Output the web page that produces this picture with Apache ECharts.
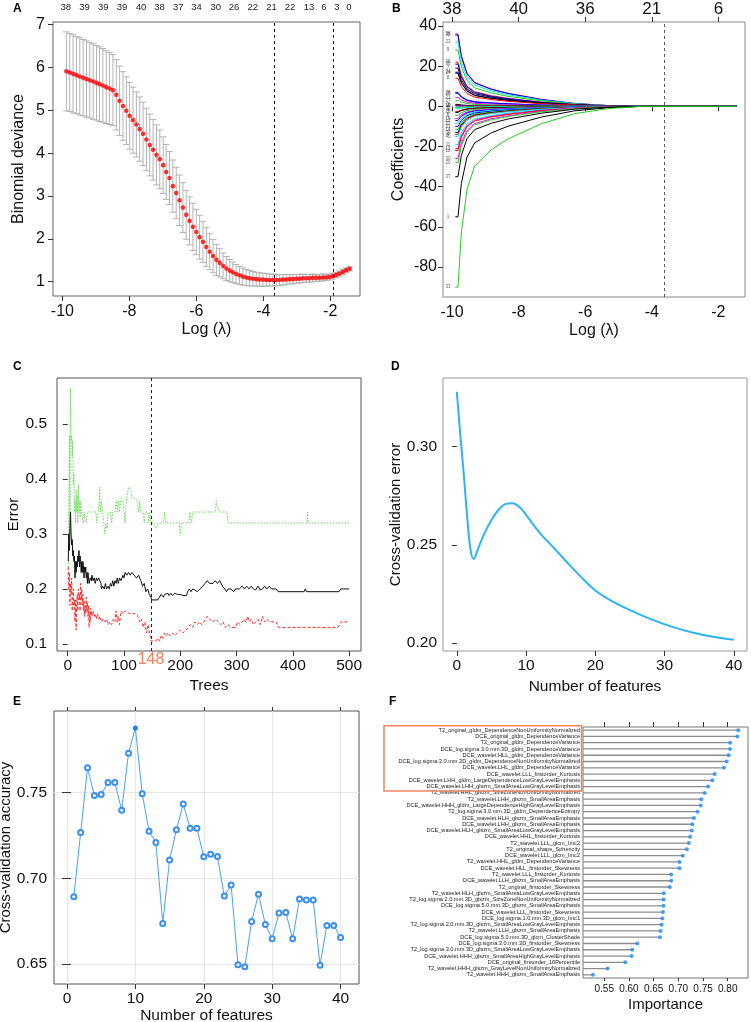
<!DOCTYPE html>
<html><head><meta charset="utf-8">
<script src="https://cdn.jsdelivr.net/npm/echarts@6/dist/echarts.min.js"></script>
<style>html,body{margin:0;padding:0;background:#fff}#c{width:751px;height:1022px}</style>
</head><body><div id="c"></div>
<script>
// ---------- Panel A: LASSO CV binomial deviance ----------
const aLogLambda = [-9.88,-9.78,-9.68,-9.58,-9.48,-9.38,-9.28,-9.18,-9.08,-8.98,-8.89,-8.79,-8.69,-8.59,-8.49,-8.39,-8.29,-8.19,-8.09,-7.99,-7.89,-7.79,-7.69,-7.59,-7.49,-7.39,-7.29,-7.19,-7.09,-6.99,-6.90,-6.80,-6.70,-6.60,-6.50,-6.40,-6.30,-6.20,-6.10,-6.00,-5.90,-5.80,-5.70,-5.60,-5.50,-5.40,-5.30,-5.20,-5.10,-5.00,-4.91,-4.81,-4.71,-4.61,-4.51,-4.41,-4.31,-4.21,-4.11,-4.01,-3.91,-3.81,-3.71,-3.61,-3.51,-3.41,-3.31,-3.21,-3.11,-3.01,-2.92,-2.82,-2.72,-2.62,-2.52,-2.42,-2.32,-2.22,-2.12,-2.02,-1.92,-1.82,-1.72,-1.62,-1.52,-1.42];
const aMeanDeviance = [5.91,5.88,5.85,5.82,5.79,5.76,5.73,5.70,5.67,5.64,5.61,5.58,5.54,5.51,5.47,
5.36,5.22,5.10,4.99,4.87,4.77,4.67,4.56,4.45,4.32,
4.19,4.08,3.96,3.86,3.72,3.56,3.42,3.23,3.07,2.90,
2.73,2.56,2.42,2.28,2.16,2.04,1.93,1.81,1.70,1.60,
1.51,1.44,1.37,1.31,1.26,1.22,1.18,1.15,1.12,1.10,
1.08,1.07,1.06,1.05,1.05,1.04,1.04,1.04,1.04,1.04,
1.05,1.05,1.06,1.06,1.07,1.07,1.08,1.08,1.08,1.09,
1.09,1.09,1.10,1.10,1.11,1.13,1.16,1.19,1.23,1.27,1.30];
const aStdErr = [.92,.91,.91,.90,.90,.89,.89,.88,.88,.87,.87,.86,.85,.84,.83,
.82,.81,.80,.79,.78,.77,.76,.75,.74,.73,.72,
.71,.70,.68,.66,.64,.62,.61,.60,.59,.58,
.57,.56,.55,.53,.51,.48,.45,.42,.39,.36,
.33,.30,.28,.26,.24,.22,.21,.20,.19,.18,
.17,.16,.16,.15,.15,.14,.14,.13,.13,.12,
.12,.11,.11,.10,.10,.10,.09,.09,.09,.08,
.08,.08,.07,.07,.07,.06,.06,.06,.05,.05];
const aLambdaMinMark = [-3.66, -1.90];
const aTopX = [-9.90,-9.34,-8.78,-8.22,-7.65,-7.10,-6.54,-5.99,-5.42,-4.87,-4.31,-3.75,-3.20,-2.63,-2.19,-1.80,-1.44];
const aTopLabels = ['38','39','39','39','40','38','37','34','30','26','22','21','22','13','6','3','0'];
const aXTicks = [-10,-8,-6,-4,-2];
const aYTicks = [1,2,3,4,5,6,7];

// ---------- Panel B: coefficient paths ----------
const bLogLambda = [-9.9,-9.82,-9.72,-9.55,-9.32,-8.82,-8.32,-7.31,-6.31,-5.31,-4.3,-1.45];
const bCoefPaths = [
[36,36,25.2,16.6,11.9,8.6,6.5,3.5,1.4,0.4,0,0],
[35.5,35.5,24.9,16.3,11.7,8.5,6.4,3.4,1.4,0.4,0,0],
[32,32,22.4,14.7,10.6,7.7,5.8,3.1,1.3,0.4,0,0],
[28,28,19.6,12.9,9.2,6.7,5.0,2.7,1.1,0.3,0,0],
[22,22,15.4,10.1,7.3,5.3,4.0,2.1,0.9,0.3,0,0],
[21,21,14.7,9.7,6.9,5.0,3.8,2.0,0.8,0.3,0,0],
[19,19,13.3,8.7,6.3,4.6,3.4,1.8,0.8,0.2,0,0],
[17,17,11.9,7.8,5.6,4.1,3.1,1.6,0.7,0.2,0,0],
[16.5,16.5,11.6,7.6,5.4,4.0,3.0,1.6,0.7,0.2,0,0],
[14,14,9.8,6.4,4.6,3.4,2.5,1.3,0.6,0.2,0,0],
[7,7,4.9,3.2,2.3,1.7,1.3,0.7,0.3,0.1,0,0],
[6.5,6.5,4.6,3.0,2.1,1.6,1.2,0.6,0.3,0.1,0,0],
[4.5,4.5,3.2,2.1,1.5,1.1,0.8,0.4,0.2,0.1,0,0],
[3,3,2.1,1.4,1.0,0.7,0.5,0.3,0.1,0,0,0],
[1,1,0.7,0.5,0.3,0.2,0.2,0.1,0,0,0,0],
[0.5,0.5,0.4,0.2,0.2,0.1,0.1,0,0,0,0,0],
[0.2,0.2,0.1,0.1,0.1,0,0,0,0,0,0,0],
[-0.5,-0.5,-0.4,-0.2,-0.2,-0.1,-0.1,0,0,0,0,0],
[-1.2,-1.2,-0.8,-0.6,-0.4,-0.3,-0.2,-0.1,0,0,0,0],
[-2.5,-2.5,-1.8,-1.2,-0.8,-0.6,-0.5,-0.2,-0.1,0,0,0],
[-3,-3,-2.1,-1.4,-1.0,-0.7,-0.5,-0.3,-0.1,0,0,0],
[-4.5,-4.5,-3.2,-2.1,-1.5,-1.1,-0.8,-0.4,-0.2,-0.1,0,0],
[-6,-6,-4.2,-2.8,-2.0,-1.4,-1.1,-0.6,-0.2,-0.1,0,0],
[-7,-7,-4.9,-3.2,-2.3,-1.7,-1.3,-0.7,-0.3,-0.1,0,0],
[-8.5,-8.5,-6.0,-3.9,-2.8,-2.0,-1.5,-0.8,-0.3,-0.1,0,0],
[-10,-10,-7,-4.6,-3.3,-2.4,-1.8,-1.0,-0.4,-0.1,0,0],
[-11.5,-11.5,-8.1,-5.3,-3.8,-2.8,-2.1,-1.1,-0.5,-0.1,0,0],
[-13,-13,-9.1,-6.0,-4.3,-3.1,-2.3,-1.2,-0.5,-0.2,0,0],
[-14,-14,-9.8,-6.4,-4.6,-3.4,-2.5,-1.3,-0.6,-0.2,0,0],
[-15,-15,-10.5,-6.9,-5.0,-3.6,-2.7,-1.4,-0.6,-0.2,0,0],
[-19,-19,-13.3,-8.7,-6.3,-4.6,-3.4,-1.8,-0.8,-0.2,0,0],
[-21,-21,-14.7,-9.7,-6.9,-5.0,-3.8,-2.0,-0.8,-0.3,0,0],
[-22,-22,-15.4,-10.1,-7.3,-5.3,-4.0,-2.1,-0.9,-0.3,0,0],
[-26,-26,-18.2,-12.0,-8.6,-6.2,-4.7,-2.5,-1.0,-0.3,0,0],
[-28,-28,-19.6,-12.9,-9.2,-6.7,-5.0,-2.7,-1.1,-0.3,0,0],
[-35,-35,-24.5,-16.1,-11.6,-8.4,-6.3,-3.4,-1.4,-0.4,0,0],
[-55,-55,-38.5,-25.3,-18.2,-13.2,-9.9,-5.3,-2.2,-0.7,0,0],
[-90,-90,-63,-41.4,-29.7,-21.6,-16.2,-8.6,-3.6,-1.1,0,0]
];
const bPathColors = ['#ff0000','#0000ff','#00e5e5','#22cc22','#ff0000','#0000ff','#000000','#0000ff','#000000','#ff0000',
'#0000ff','#0000ff','#ff00ff','#22cc22','#000000','#ff0000','#0000ff','#22cc22','#00e5e5','#ff0000',
'#000000','#22cc22','#ff00ff','#0000ff','#00e5e5','#0000ff','#22cc22','#000000','#ff0000','#00e5e5',
'#00e5e5','#ff00ff','#ff0000','#ff00ff','#22cc22','#000000','#000000','#22cc22'];
const bPathLabels = ['38','35','23','9','26','36','7','34','24','8','28','25','21','27','3','19','13','5','32','15',
'2','6','16','12','22','31','14','39','4','40','11','17','18','30','20','37','1','33'];
const bTopTicks = [-10,-8,-6,-4,-2];
const bTopLabels = ['38','40','36','21','6'];
const bYTicks = [-80,-60,-40,-20,0,20,40];
const bLambdaMark = [-3.63];

// ---------- Panel C: random forest error ----------
const cOOBError = [[1,0.25],[2,0.3],[3,0.27],[4,0.31],[5,0.34],[6,0.3],[7,0.28],[8,0.29],[9,0.26],[10,0.27],[11,0.25],[12,0.26],[13,0.22],[14,0.25],[15,0.23],[16,0.25],[17,0.24],[18,0.26],[19,0.25],[20,0.27],[21,0.24],[22,0.26],[23,0.25],[24,0.23],[25,0.25],[26,0.23],[27,0.25],[28,0.24],[29,0.22],[30,0.24],[31,0.23],[32,0.24],[33,0.22],[34,0.23],[35,0.21],[36,0.23],[37,0.22],[38,0.21],[40,0.22],[42,0.215],[43,0.225],[45,0.215],[47,0.22],[49,0.21],[51,0.22],[53,0.215],[55,0.22],[57,0.22],[59,0.21],[60,0.2],[62,0.205],[65,0.2],[67,0.21],[69,0.2],[72,0.205],[74,0.2],[76,0.21],[78,0.205],[80,0.215],[82,0.205],[84,0.215],[86,0.21],[88,0.22],[90,0.21],[92,0.22],[95,0.215],[98,0.225],[100,0.22],[102,0.23],[105,0.225],[108,0.23],[111,0.225],[114,0.23],[118,0.225],[122,0.22],[126,0.225],[130,0.215],[133,0.205],[136,0.21],[139,0.195],[142,0.2],[145,0.19],[148,0.185],[149,0.18],[155,0.18],[160,0.18],[163,0.185],[166,0.19],[170,0.185],[172,0.19],[175,0.188],[178,0.192],[180,0.188],[183,0.192],[186,0.188],[190,0.192],[195,0.19],[200,0.19],[205,0.188],[211,0.188],[213,0.195],[216,0.2],[219,0.195],[222,0.2],[226,0.198],[230,0.195],[235,0.2],[240,0.205],[244,0.21],[248,0.215],[252,0.21],[258,0.21],[262,0.215],[266,0.21],[270,0.215],[275,0.205],[279,0.2],[282,0.195],[285,0.2],[290,0.2],[295,0.195],[298,0.2],[305,0.2],[310,0.205],[314,0.2],[318,0.205],[322,0.2],[326,0.205],[330,0.2],[334,0.198],[338,0.205],[342,0.198],[346,0.2],[350,0.205],[354,0.2],[358,0.205],[362,0.2],[370,0.2],[374,0.195],[420,0.195],[422,0.2],[424,0.195],[482,0.195],[485,0.2],[487,0.198],[490,0.2],[500,0.2]];
const cClassRed = [[1,0.24],[2,0.2],[3,0.23],[4,0.17],[5,0.21],[6,0.19],[7,0.22],[8,0.16],[9,0.19],[10,0.2],[11,0.17],[12,0.18],[13,0.14],[14,0.18],[15,0.125],[16,0.17],[17,0.19],[18,0.16],[19,0.2],[20,0.18],[21,0.19],[22,0.16],[23,0.21],[24,0.18],[25,0.2],[26,0.17],[27,0.19],[28,0.16],[29,0.18],[30,0.15],[31,0.17],[32,0.155],[33,0.185],[34,0.16],[35,0.175],[36,0.15],[37,0.17],[38,0.13],[39,0.16],[40,0.14],[41,0.165],[43,0.15],[45,0.16],[47,0.15],[49,0.155],[51,0.145],[53,0.155],[55,0.145],[57,0.15],[60,0.14],[63,0.145],[66,0.14],[69,0.145],[72,0.135],[75,0.14],[78,0.135],[81,0.145],[84,0.14],[86,0.16],[88,0.14],[90,0.15],[92,0.135],[95,0.16],[98,0.155],[102,0.16],[110,0.155],[120,0.155],[125,0.15],[128,0.14],[131,0.145],[134,0.13],[137,0.14],[140,0.12],[143,0.135],[146,0.115],[148,0.105],[156,0.105],[160,0.11],[163,0.105],[166,0.115],[169,0.11],[172,0.12],[175,0.115],[178,0.12],[182,0.115],[186,0.12],[190,0.115],[195,0.12],[200,0.125],[205,0.12],[210,0.125],[214,0.13],[218,0.135],[222,0.13],[226,0.14],[230,0.135],[234,0.14],[238,0.135],[242,0.14],[245,0.145],[248,0.15],[252,0.145],[258,0.14],[262,0.145],[268,0.14],[272,0.135],[276,0.14],[280,0.13],[285,0.135],[290,0.13],[298,0.13],[302,0.14],[306,0.135],[310,0.14],[313,0.145],[316,0.14],[320,0.15],[323,0.14],[326,0.145],[330,0.135],[334,0.14],[338,0.145],[342,0.135],[346,0.15],[350,0.14],[354,0.145],[358,0.14],[362,0.14],[370,0.14],[375,0.13],[480,0.13],[483,0.135],[486,0.14],[490,0.14],[500,0.14]];
const cClassGreen = [[1,0.24],[2,0.35],[3,0.48],[4,0.3],[5,0.565],[6,0.47],[7,0.48],[8,0.44],[9,0.47],[10,0.39],[11,0.41],[12,0.34],[13,0.36],[14,0.32],[15,0.38],[16,0.34],[17,0.37],[18,0.32],[19,0.39],[20,0.34],[21,0.36],[22,0.33],[23,0.36],[24,0.34],[26,0.34],[28,0.32],[29,0.34],[31,0.34],[33,0.32],[35,0.34],[40,0.34],[50,0.34],[52,0.32],[54,0.34],[56,0.36],[57,0.385],[58,0.34],[60,0.36],[62,0.34],[64,0.32],[66,0.3],[68,0.32],[70,0.31],[72,0.34],[76,0.34],[78,0.32],[80,0.34],[84,0.34],[86,0.36],[88,0.34],[90,0.36],[92,0.34],[94,0.36],[98,0.36],[102,0.32],[104,0.36],[108,0.385],[112,0.38],[114,0.365],[120,0.365],[124,0.36],[126,0.34],[128,0.36],[130,0.34],[134,0.34],[136,0.32],[138,0.34],[142,0.34],[144,0.32],[146,0.34],[148,0.32],[152,0.32],[155,0.32],[157,0.31],[160,0.32],[170,0.32],[172,0.34],[174,0.32],[198,0.32],[200,0.3],[202,0.32],[215,0.32],[217,0.34],[220,0.32],[222,0.34],[240,0.34],[262,0.34],[264,0.36],[266,0.35],[270,0.34],[283,0.34],[285,0.32],[425,0.32],[426,0.34],[427,0.32],[500,0.32]];
const cBestTrees = 148;
const cXTicks = [0,100,200,300,400,500];
const cYTicks = [0.1,0.2,0.3,0.4,0.5];

// ---------- Panel D: CV error vs number of features ----------
const dNumFeatures = [0,0.5,1,1.5,2,2.45,3,4,5,6,7,8,9,10,12,14,16,18,20,22,25,28,31,34,37,40];
const dCvError = [0.328,0.306,0.286,0.264,0.247,0.2429,0.2475,0.256,0.2627,0.2678,0.2708,0.2712,0.2695,0.2653,0.256,0.2485,0.2408,0.2335,0.2268,0.2222,0.2168,0.2122,0.2084,0.2054,0.2032,0.2017];
const dXTicks = [0,10,20,30,40];
const dYTicks = [0.20,0.25,0.30];

// ---------- Panel E: CV accuracy vs number of features ----------
const eNumFeatures = [1,2,3,4,5,6,7,8,9,10,11,12,13,14,15,16,17,18,19,20,21,22,23,24,25,26,27,28,29,30,31,32,33,34,35,36,37,38,39,40];
const eAccuracy = [0.6893,0.7267,0.7645,0.7484,0.749,0.756,0.756,0.7397,0.7731,0.7878,0.7494,0.7275,0.7209,0.6736,0.7107,0.7283,0.7434,0.7293,0.7293,0.7126,0.7141,0.7128,0.6897,0.6961,0.6496,0.6483,0.6748,0.6907,0.6731,0.6647,0.6797,0.68,0.6647,0.688,0.6874,0.6874,0.6492,0.6725,0.6725,0.6655];
const eBestIndex = 9;
const eXTicks = [0,10,20,30,40];
const eYTicks = [0.65,0.70,0.75];

// ---------- Panel F: feature importance ----------
const fFeatures = ['T2_original_gldm_DependenceNonUniformityNormalized','DCE_original_gldm_DependenceVariance','T2_original_gldm_DependenceVariance','DCE_log.sigma.3.0.mm.3D_gldm_DependenceVariance','DCE_wavelet.HLL_gldm_DependenceVariance','DCE_log.sigma.3.0.mm.3D_gldm_DependenceNonUniformityNormalized','DCE_wavelet.LHL_gldm_DependenceVariance','DCE_wavelet.LLL_firstorder_Kurtosis','DCE_wavelet.LHH_gldm_LargeDependenceLowGrayLevelEmphasis','DCE_wavelet.LHH_glszm_SmallAreaLowGrayLevelEmphasis','T2_wavelet.HHL_glszm_SizeZoneNonUniformityNormalized','T2_wavelet.LHH_glszm_SmallAreaEmphasis','DCE_wavelet.HHH_gldm_LargeDependenceHighGrayLevelEmphasis','T2_log.sigma.3.0.mm.3D_gldm_DependenceEntropy','DCE_wavelet.HLH_glszm_SmallAreaEmphasis','DCE_wavelet.LHH_glszm_SmallAreaEmphasis','DCE_wavelet.HLH_glszm_SmallAreaLowGrayLevelEmphasis','DCE_wavelet.HHL_firstorder_Kurtosis','T2_wavelet.LLL_glcm_Imc2','T2_original_shape_Sphericity','DCE_wavelet.LLL_glcm_Imc2','T2_wavelet.HHL_gldm_DependenceVariance','DCE_wavelet.HLL_firstorder_Skewness','T2_wavelet.LLL_firstorder_Kurtosis','DCE_wavelet.LLH_glszm_SmallAreaEmphasis','T2_original_firstorder_Skewness','T2_wavelet.HLH_glszm_SmallAreaLowGrayLevelEmphasis','T2_log.sigma.2.0.mm.3D_glszm_SizeZoneNonUniformityNormalized','DCE_log.sigma.5.0.mm.3D_glszm_SmallAreaEmphasis','DCE_wavelet.LLL_firstorder_Skewness','DCE_log.sigma.1.0.mm.3D_glcm_Imc1','T2_log.sigma.2.0.mm.3D_glszm_SmallAreaLowGrayLevelEmphasis','T2_wavelet.LLH_glszm_SmallAreaEmphasis','DCE_log.sigma.5.0.mm.3D_glcm_ClusterShade','DCE_log.sigma.3.0.mm.3D_firstorder_Skewness','T2_log.sigma.3.0.mm.3D_glszm_SmallAreaLowGrayLevelEmphasis','DCE_wavelet.HHH_glszm_SmallAreaHighGrayLevelEmphasis','DCE_original_firstorder_10Percentile','T2_wavelet.HHH_glszm_GrayLevelNonUniformityNormalized','T2_wavelet.HHH_glszm_SmallAreaEmphasis'];
const fImportance = [0.8215,0.8195,0.8047,0.8047,0.802,0.798,0.7925,0.7737,0.7689,0.7601,0.7534,0.7466,0.7453,0.739,0.7317,0.7284,0.7274,0.724,0.7213,0.7173,0.709,0.7024,0.7024,0.6855,0.6855,0.6828,0.6706,0.67,0.67,0.669,0.6676,0.6662,0.6642,0.6629,0.6169,0.6068,0.6055,0.5926,0.5569,0.5271];
const fHighlightCount = 10;
const fXTicks = [0.55,0.60,0.65,0.70,0.75,0.80];

// ---------- build ----------
const FONT = '"Liberation Sans", Arial, Helvetica, sans-serif';
const TXT = '#111';
function vAxis(grid, min, max, ticks, extra) {
  const fmt = extra && extra.fmt;
  const a = {
    type: 'value', gridIndex: grid, min: min, max: max,
    axisLine: {show: false},
    axisTick: {show: true, length: 5, lineStyle: {color: '#333', width: 1}, customValues: ticks},
    axisLabel: {show: true, customValues: ticks, fontSize: 16, color: TXT, fontFamily: FONT, margin: 8,
      formatter: fmt || (v => String(v))},
    splitLine: {show: false},
    nameLocation: 'middle',
    nameTextStyle: {fontSize: 16, color: TXT, fontFamily: FONT}
  };
  if (extra) { for (const k in extra) { if (k !== 'fmt') a[k] = extra[k]; } }
  return a;
}
function gridBox(l, t, w, h, col) {
  return {left: l, top: t, width: w, height: h, show: true, borderColor: col || '#666', borderWidth: 1,
    backgroundColor: 'transparent', containLabel: false, outerBoundsMode: 'none'};
}

const grids = [
  gridBox(53, 22, 307, 274, '#666'),   // A
  gridBox(443, 22, 302, 275, '#888'),  // B
  gridBox(57, 378, 304, 273, '#555'),  // C
  gridBox(443, 378, 304, 273, '#999'), // D
  gridBox(54, 711, 305, 273, '#555'),  // E
  gridBox(583, 727, 165, 251, '#777')  // F
];

const xAxes = [
  vAxis(0, -10.28, -1.11, aXTicks, {name: 'Log (λ)', nameGap: 26}),
  vAxis(0, -10.28, -1.11, aTopX, {position: 'top',
    axisTick: {show: false},
    axisLabel: {show: true, customValues: aTopX, fontSize: 9.5, color: '#222', fontFamily: FONT, margin: 10,
      formatter: v => { let k = 0, d = 1e9; aTopX.forEach((x, i) => { if (Math.abs(x - v) < d) { d = Math.abs(x - v); k = i; } }); return aTopLabels[k]; }}}),
  vAxis(1, -10.27, -1.2, aXTicks, {name: 'Log (λ)', nameGap: 26}),
  vAxis(1, -10.27, -1.2, bTopTicks, {position: 'top',
    axisTick: {show: true, length: 5, lineStyle: {color: '#333'}, customValues: bTopTicks},
    axisLabel: {show: true, customValues: bTopTicks, fontSize: 17, color: TXT, fontFamily: FONT, margin: 4,
      formatter: v => bTopLabels[bTopTicks.indexOf(v)]}}),
  vAxis(2, -19, 521, cXTicks, {name: 'Trees', nameGap: 27}),
  vAxis(3, -2, 41.9, dXTicks, {name: 'Number of features', nameGap: 28}),
  vAxis(4, -1.9, 42.7, eXTicks, {name: 'Number of features', nameGap: 24,
    splitLine: {show: true, lineStyle: {color: '#e6e6e6', width: 1}}}),
  vAxis(4, -1.9, 42.7, eXTicks, {position: 'top', axisLabel: {show: false},
    axisTick: {show: true, length: 4, lineStyle: {color: '#333'}, customValues: eXTicks}}),
  vAxis(5, 0.507, 0.841, fXTicks, {name: 'Importance', nameGap: 19, fmt: v => v.toFixed(2),
    nameTextStyle: {fontSize: 15, color: TXT, fontFamily: FONT}}),
  vAxis(5, 0.507, 0.841, fXTicks, {position: 'top', axisLabel: {show: false},
    axisTick: {show: true, length: 5, lineStyle: {color: '#333'}, customValues: fXTicks}})
];
xAxes[8].axisLabel.fontSize = 10;
xAxes[8].axisLabel.margin = 6;
xAxes[8].axisTick.length = 3;
[4,5,6].forEach(i => { xAxes[i].axisLabel.fontSize = 15.5; xAxes[i].axisLabel.margin = 7; xAxes[i].nameTextStyle.fontSize = 15.5; });

const yAxes = [
  vAxis(0, 0.667, 7.06, aYTicks, {name: 'Binomial deviance', nameGap: 26}),
  vAxis(1, -94.9, 42, bYTicks, {name: 'Coefficients', nameGap: 36}),
  vAxis(2, 0.087, 0.584, cYTicks, {name: 'Error', nameGap: 34, fmt: v => v.toFixed(1)}),
  vAxis(3, 0.196, 0.335, dYTicks, {name: 'Cross-validation error', nameGap: 40, fmt: v => v.toFixed(2)}),
  vAxis(4, 0.6383, 0.7977, eYTicks, {name: 'Cross-validation accuracy', nameGap: 38, fmt: v => v.toFixed(2),
    splitLine: {show: true, lineStyle: {color: '#e6e6e6', width: 1}}}),
  vAxis(4, 0.6383, 0.7977, eYTicks, {position: 'right', axisLabel: {show: false},
    axisTick: {show: true, length: 4, lineStyle: {color: '#333'}, customValues: eYTicks}}),
  {type: 'category', gridIndex: 5, data: fFeatures, inverse: true,
    axisLine: {show: false}, axisTick: {show: false},
    axisLabel: {interval: 0, fontSize: 5.6, color: '#222', fontFamily: FONT, margin: 3}}
];
[2,3,4].forEach(i => { yAxes[i].axisLabel.fontSize = 15.5; yAxes[i].nameTextStyle.fontSize = 15; });
yAxes[2].axisLabel.margin = 10;
yAxes[3].axisLabel.margin = 6;
yAxes[4].axisLabel.margin = 7;
yAxes[1].axisLabel.margin = 6;

const series = [];
// A error bars
series.push({
  type: 'custom', xAxisIndex: 0, yAxisIndex: 0, silent: true,
  data: aLogLambda.map((x, i) => [x, aMeanDeviance[i] - aStdErr[i], aMeanDeviance[i] + aStdErr[i]]),
  encode: {x: 0, y: [1, 2]},
  renderItem: (params, api) => {
    const x = api.value(0);
    const lo = api.coord([x, api.value(1)]), hi = api.coord([x, api.value(2)]);
    const w = 3.3, st = {stroke: '#b3b3b3', lineWidth: 1};
    return {type: 'group', children: [
      {type: 'line', shape: {x1: lo[0], y1: lo[1], x2: hi[0], y2: hi[1]}, style: st},
      {type: 'line', shape: {x1: lo[0] - w, y1: lo[1], x2: lo[0] + w, y2: lo[1]}, style: st},
      {type: 'line', shape: {x1: hi[0] - w, y1: hi[1], x2: hi[0] + w, y2: hi[1]}, style: st}
    ]};
  }
});
series.push({
  type: 'scatter', xAxisIndex: 0, yAxisIndex: 0, symbolSize: 4.6,
  itemStyle: {color: '#ff0000'},
  data: aLogLambda.map((x, i) => [x, aMeanDeviance[i]]),
  markLine: {silent: true, symbol: 'none', label: {show: false},
    lineStyle: {color: '#222', type: [3, 3], width: 1},
    data: aLambdaMinMark.map(v => ({xAxis: v}))}
});
// B coefficient paths
bCoefPaths.forEach((p, k) => {
  series.push({type: 'line', xAxisIndex: 2, yAxisIndex: 1, showSymbol: false, symbol: 'none',
    lineStyle: {color: bPathColors[k], width: 1}, z: 2,
    data: bLogLambda.map((x, i) => [x, p[i]])});
});
series.push({type: 'scatter', xAxisIndex: 2, yAxisIndex: 1, symbolSize: 0, silent: true,
  data: bCoefPaths.map((p, k) => ({value: [-10.12, p[0]], name: bPathLabels[k]})),
  label: {show: true, position: 'inside', formatter: '{b}', fontSize: 4.5, color: '#333', fontFamily: FONT},
  markLine: {silent: true, symbol: 'none', label: {show: false},
    lineStyle: {color: '#555', type: [3, 3], width: 1},
    data: bLambdaMark.map(v => ({xAxis: v}))}
});
// C random forest
series.push({type: 'line', xAxisIndex: 4, yAxisIndex: 2, showSymbol: false, symbol: 'none',
  lineStyle: {color: '#66dd55', width: 1, type: [1.5, 1.5]}, data: cClassGreen});
series.push({type: 'line', xAxisIndex: 4, yAxisIndex: 2, showSymbol: false, symbol: 'none',
  lineStyle: {color: '#ff2a2a', width: 1, type: [3, 2]}, data: cClassRed});
series.push({type: 'line', xAxisIndex: 4, yAxisIndex: 2, showSymbol: false, symbol: 'none',
  lineStyle: {color: '#111', width: 1}, data: cOOBError,
  markLine: {silent: true, symbol: 'none',
    lineStyle: {color: '#222', type: [3, 3], width: 1},
    label: {show: true, position: 'start', formatter: String(cBestTrees), color: '#f47f5a', fontSize: 16, fontFamily: FONT, distance: 1},
    data: [{xAxis: cBestTrees}]}
});
// D
series.push({type: 'line', xAxisIndex: 5, yAxisIndex: 3, showSymbol: false, symbol: 'none', smooth: 0.4,
  lineStyle: {color: '#2db4f4', width: 2}, data: dNumFeatures.map((x, i) => [x, dCvError[i]])});
// E
series.push({type: 'line', xAxisIndex: 6, yAxisIndex: 4, symbol: 'emptyCircle', symbolSize: 5,
  lineStyle: {color: '#4a9ff5', width: 1}, itemStyle: {color: '#3b8ff0', borderWidth: 1},
  data: eNumFeatures.map((x, i) => i === eBestIndex
    ? {value: [x, eAccuracy[i]], symbol: 'circle', itemStyle: {color: '#1e7ff0'}}
    : [x, eAccuracy[i]])});
// F lollipop
series.push({type: 'bar', xAxisIndex: 8, yAxisIndex: 6, barWidth: 1.3, clip: true, silent: true,
  itemStyle: {color: '#8d8d8d'}, data: fImportance});
series.push({type: 'scatter', xAxisIndex: 8, yAxisIndex: 6, symbolSize: 4, silent: true,
  itemStyle: {color: '#1e88ff'}, data: fImportance.map((v, i) => [v, fFeatures[i]])});

function letter(t, x, y) {
  return {type: 'text', left: x, top: y, style: {text: t, font: 'bold 12px ' + FONT, fill: '#000'}};
}

const chart = echarts.init(document.getElementById('c'), null, {renderer: 'canvas'});
chart.setOption({
  animation: false, backgroundColor: '#fff',
  grid: grids, xAxis: xAxes, yAxis: yAxes, series: series,
  graphic: [letter('A', 13, 3), letter('B', 392, 3), letter('C', 13, 361), letter('D', 391, 361), letter('E', 13, 696), letter('F', 389, 696)]
});
// highlight box around the top features in F (positions from the library scale)
const pTop = chart.convertToPixel({xAxisIndex: 8, yAxisIndex: 6}, [0.6, fFeatures[0]]);
const pBot = chart.convertToPixel({xAxisIndex: 8, yAxisIndex: 6}, [0.6, fFeatures[fHighlightCount - 1]]);
const gl = chart.convertToPixel({xAxisIndex: 8}, 0.507);
chart.setOption({graphic: [letter('A', 13, 3), letter('B', 392, 3), letter('C', 13, 361), letter('D', 391, 361), letter('E', 13, 696), letter('F', 389, 696),
  {type: 'rect', shape: {x: 384, y: pTop[1] - 4.5, width: gl - 1.5 - 384, height: pBot[1] - pTop[1] + 9},
   style: {fill: 'none', stroke: '#f08462', lineWidth: 1.5}, z: 10}]});
</script></body></html>
